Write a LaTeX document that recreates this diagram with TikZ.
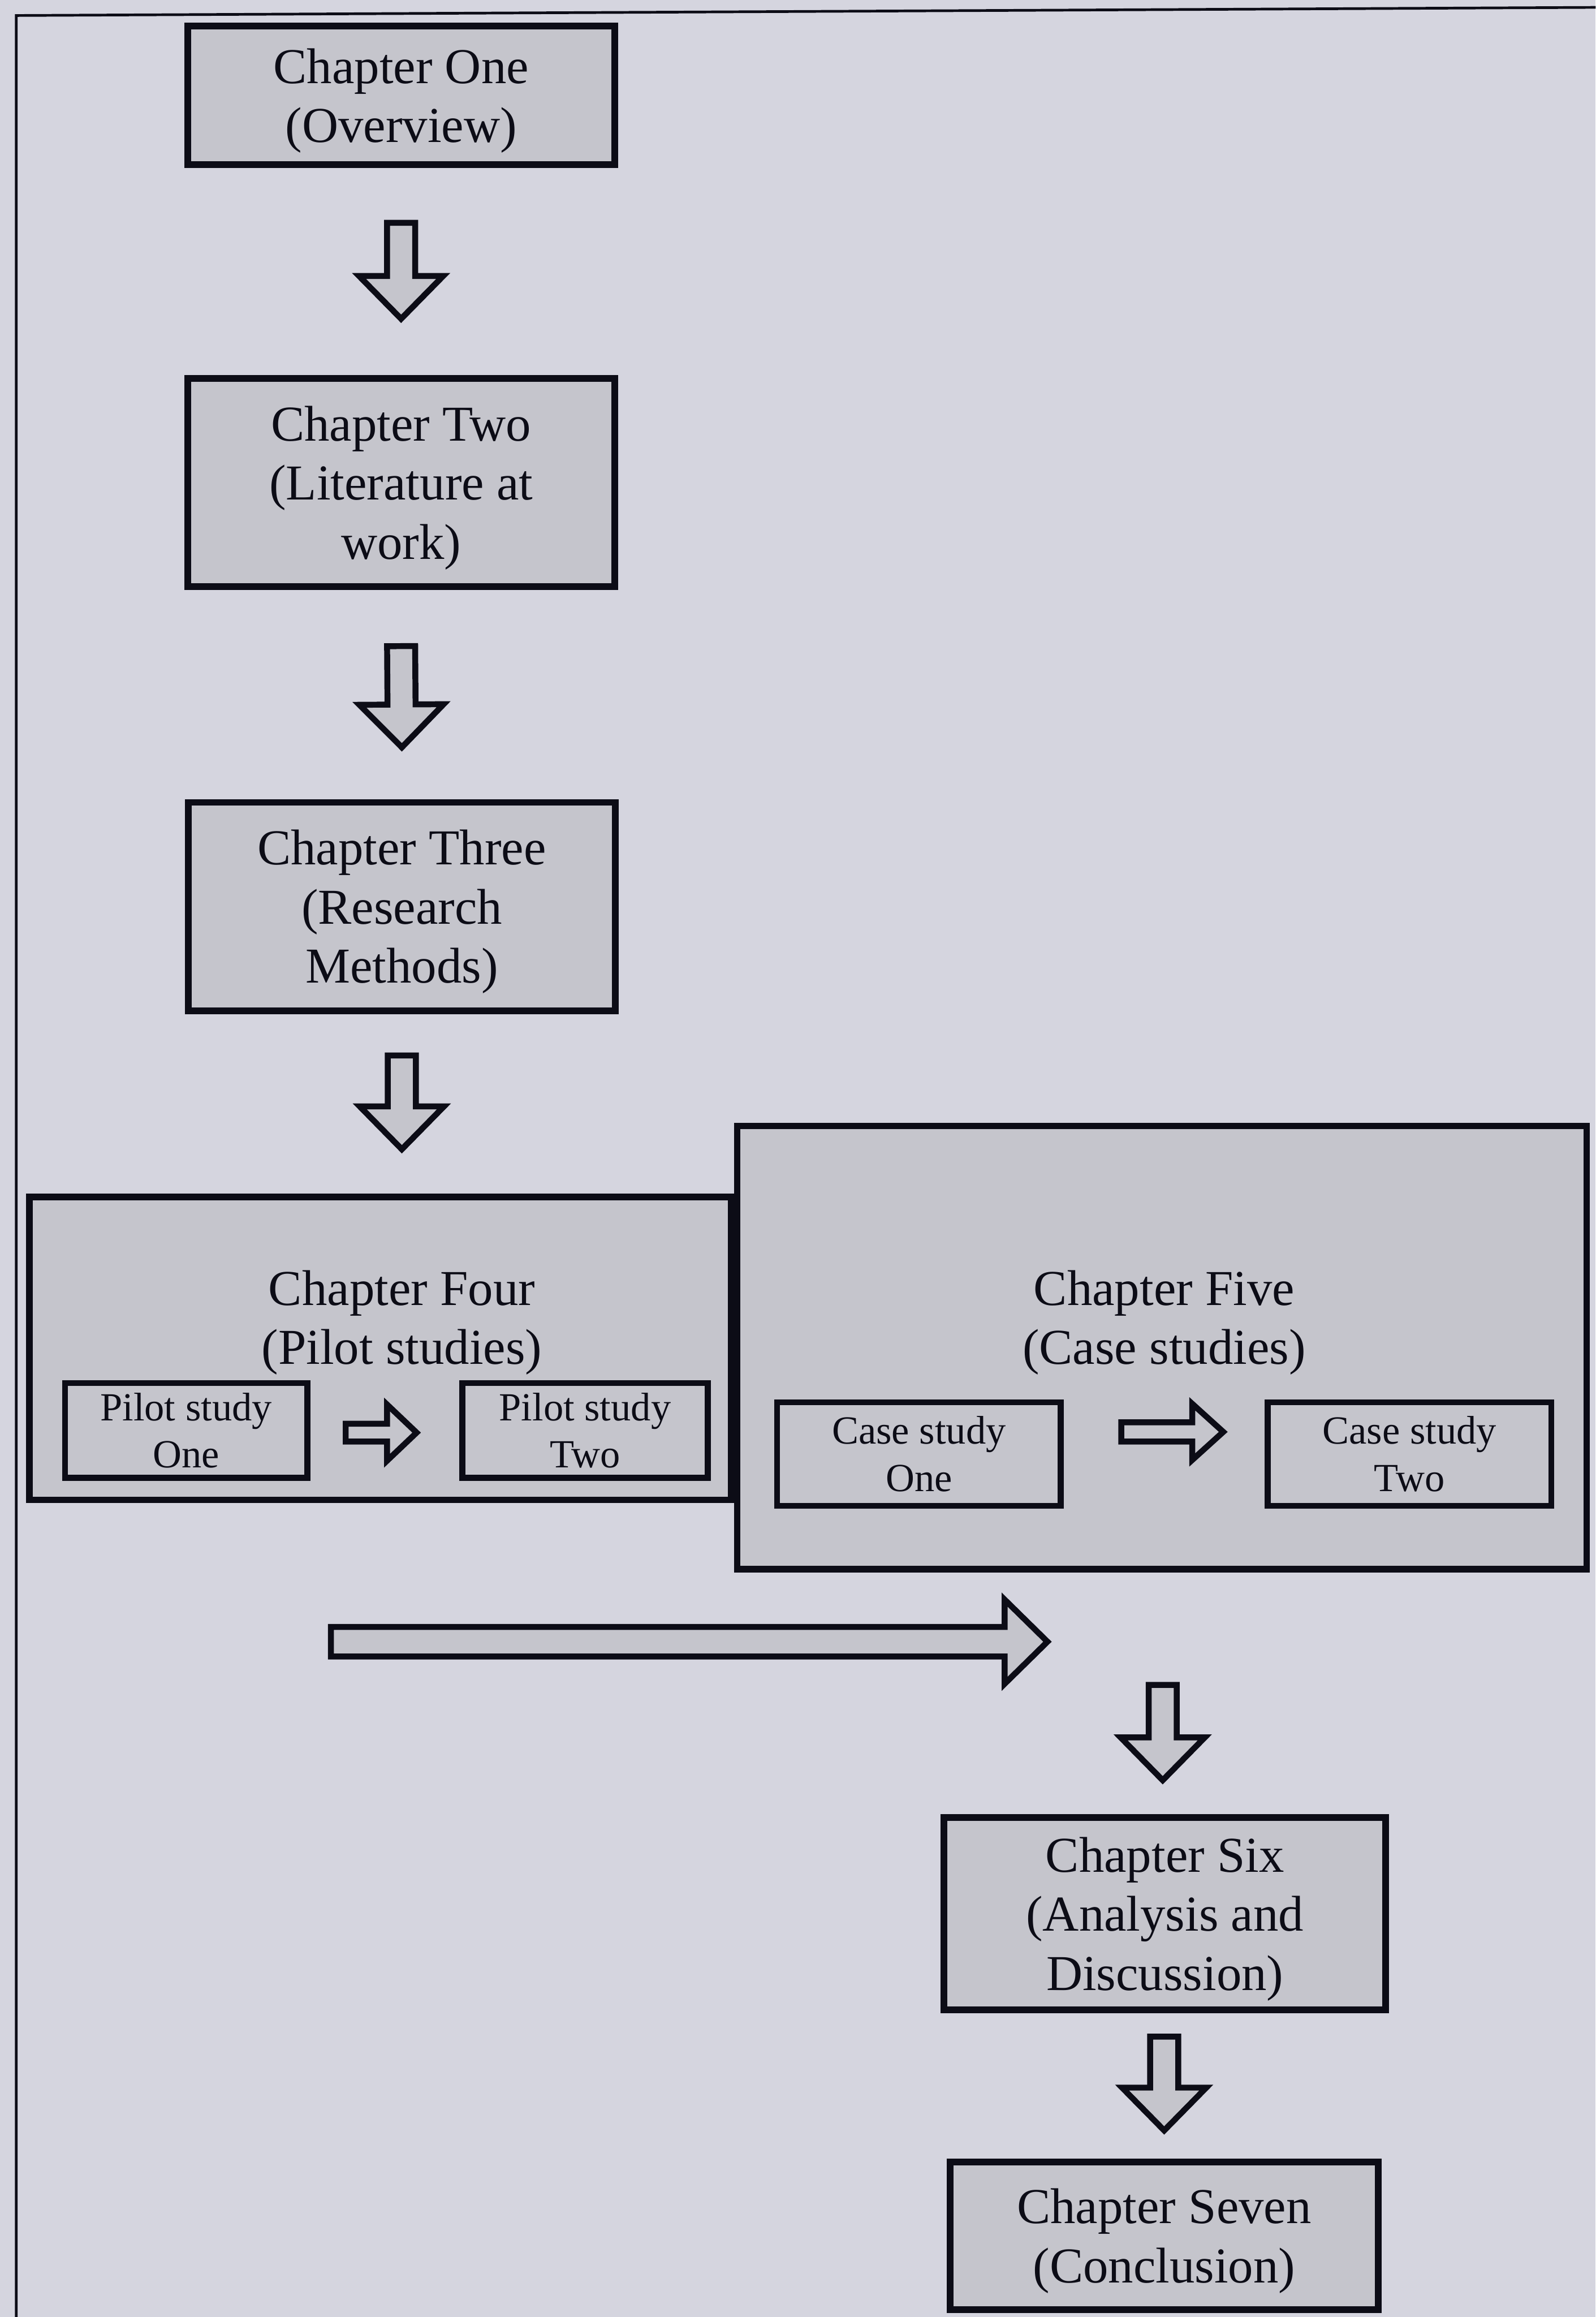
\documentclass[tikz,border=0pt]{standalone}
\usepackage{fontspec}
\setmainfont{Liberation Serif}
\usetikzlibrary{calc}
\definecolor{paper}{RGB}{213,213,223}
\definecolor{boxgrey}{RGB}{197,197,204}
\definecolor{ink}{RGB}{12,12,22}
\tikzset{
  chbox/.style={draw=ink, fill=boxgrey, line width=4.5pt, inner sep=0pt, align=center,
    text=ink, font=\fontsize{34}{40}\selectfont, text depth=0pt},
  subbox/.style={draw=ink, fill=boxgrey, line width=4pt, inner sep=0pt, align=center,
    text=ink, font=\fontsize{27}{32}\selectfont},
  title/.style={align=center, text=ink, inner sep=0pt, font=\fontsize{34}{40}\selectfont},
  % block arrow: #1 half shaft width, #2 half head width, #3 head length
  blockarrow/.style n args={3}{draw=ink, fill=boxgrey, line width=4pt, line join=miter,
    to path={
      ($(\tikztotarget)!#3!(\tikztostart)$) coordinate (headbase)
      ($(\tikztostart)!#1!-90:(\tikztotarget)$)
      -- ($(headbase)!#1!-90:(\tikztotarget)$)
      -- ($(headbase)!#2!-90:(\tikztotarget)$)
      -- (\tikztotarget)
      -- ($(headbase)!#2!90:(\tikztotarget)$)
      -- ($(headbase)!#1!90:(\tikztotarget)$)
      -- ($(\tikztostart)!#1!90:(\tikztotarget)$)
      -- cycle}},
  downarrow/.style={blockarrow={9.5pt}{28.5pt}{29pt}}
}
\begin{document}
\begin{tikzpicture}[x=1pt,y=-1pt]
  \fill[paper] (0,0) rectangle (1080,1568);
  \useasboundingbox (0,0) rectangle (1080,1568);
  % page frame
  \draw[ink, line width=1.8pt] (11,1568) -- (11,10.5) -- (1080,5);

  % chapter boxes
  \node[chbox, minimum width=289pt, minimum height=94pt] (c1) at (271.5,64.5) {Chapter One\\(Overview)};
  \node[chbox, minimum width=289pt, minimum height=141pt] (c2) at (271.5,326.5) {Chapter Two\\(Literature at\\work)};
  \node[chbox, minimum width=289pt, minimum height=141pt] (c3) at (272,613.5) {Chapter Three\\(Research\\Methods)};

  \node[chbox, minimum width=475pt, minimum height=205pt] (c4) at (257.5,912.5) {};
  \node[title] (c4t) at (272,895) {Chapter Four\\(Pilot studies)};
  \node[subbox, minimum width=164pt, minimum height=64pt] (p1) at (126,968) {Pilot study\\One};
  \node[subbox, minimum width=166pt, minimum height=64pt] (p2) at (396,968) {Pilot study\\Two};

  \node[chbox, minimum width=575pt, minimum height=300pt] (c5) at (786.5,912) {};
  \node[title] (c5t) at (788,895) {Chapter Five\\(Case studies)};
  \node[subbox, minimum width=192pt, minimum height=70pt] (s1) at (622,984) {Case study\\One};
  \node[subbox, minimum width=192pt, minimum height=70pt] (s2) at (954,984) {Case study\\Two};

  \node[chbox, minimum width=299pt, minimum height=130pt] (c6) at (788.5,1295) {Chapter Six\\(Analysis and\\Discussion)};
  \node[chbox, minimum width=290pt, minimum height=100pt] (c7) at (788,1513) {Chapter Seven\\(Conclusion)};

  % arrow end points
  \coordinate (a1s) at ($(c1.south)+(0,37)$);
  \coordinate (a1e) at ($(c2.north)+(0,-38)$);
  \coordinate (a2s) at ($(c2.south)+(0,38)$);
  \coordinate (a2e) at ($(c3.north)+(0,-35)$);
  \coordinate (a3s) at ($(c3.south)+(0,28)$);
  \coordinate (a3e) at ($(c4.north)+(14.5,-30)$);
  \coordinate (a4s) at ($(c5.south)+(0.5,76)$);
  \coordinate (a4e) at ($(c6.north)+(-1.5,-23)$);
  \coordinate (a5s) at ($(c6.south)+(-0.5,16)$);
  \coordinate (a5e) at ($(c7.north)+(0,-19)$);
  \coordinate (ps) at ($(p1.east)+(24,1.5)$);
  \coordinate (pe) at ($(p2.west)+(-29,1.5)$);
  \coordinate (ss) at ($(s1.east)+(39,-15)$);
  \coordinate (se) at ($(s2.west)+(-28,-15)$);
  \coordinate (ls) at (224,1111);
  \coordinate (le) at (709,1111);

  % block arrows
  \draw[downarrow] (a1s) to (a1e);
  \draw[downarrow] (a2s) to (a2e);
  \draw[downarrow] (a3s) to (a3e);
  \draw[downarrow] (a4s) to (a4e);
  \draw[downarrow] (a5s) to (a5e);
  \draw[blockarrow={6pt}{19pt}{20pt}] (ps) to (pe);
  \draw[blockarrow={6.5pt}{19pt}{21pt}] (ss) to (se);
  \draw[blockarrow={10pt}{28.5pt}{29pt}] (ls) to (le);
\end{tikzpicture}
\end{document}
